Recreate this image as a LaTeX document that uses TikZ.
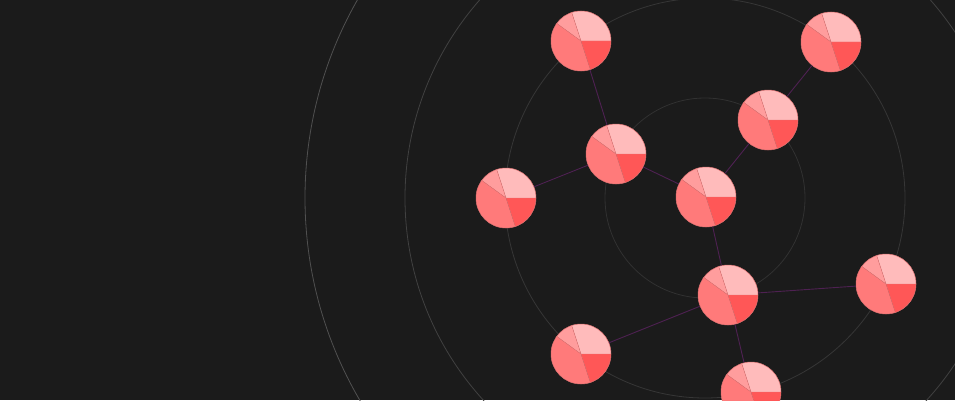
\documentclass[tikz,border=0pt]{standalone}
\usepackage{tikz}
\usetikzlibrary{positioning, calc}

\definecolor{bgdark}{HTML}{1B1B1B}
\definecolor{ringA}{HTML}{505050}
\definecolor{ringB}{HTML}{414141}
\definecolor{ringC}{HTML}{363636}
\definecolor{ringD}{HTML}{313131}
\definecolor{linkcol}{HTML}{4E2152}
\definecolor{pieA}{HTML}{FFBBBB}
\definecolor{pieB}{HTML}{FF9D9D}
\definecolor{pieC}{HTML}{FF7A7A}
\definecolor{pieD}{HTML}{FF5757}
\definecolor{piesep}{HTML}{E07474}

\begin{document}
\begin{tikzpicture}[
    x=1pt, y=1pt,
    ring/.style={line width=0.8pt},
    link/.style={draw=linkcol, line width=0.9pt},
    pie/.style={circle, minimum size=60pt, inner sep=0pt, draw=piesep, line width=0.5pt,
      path picture={
        \coordinate (pc) at (path picture bounding box.center);
        \fill[pieA] (pc) -- ++(0:31pt) arc (0:108:31pt) -- cycle;
        \fill[pieB] (pc) -- ++(108:31pt) arc (108:144:31pt) -- cycle;
        \fill[pieC] (pc) -- ++(144:31pt) arc (144:288:31pt) -- cycle;
        \fill[pieD] (pc) -- ++(288:31pt) arc (288:360:31pt) -- cycle;
        \draw[piesep, line width=0.4pt] (pc) -- ++(0:31pt) (pc) -- ++(108:31pt)
          (pc) -- ++(144:31pt) (pc) -- ++(288:31pt);
      }}
]
    % Background
    \fill[bgdark] (0,0) rectangle (955,400);
    \useasboundingbox (0,0) rectangle (955,400);

    % Rings
    \begin{scope}
      \clip (0,0) rectangle (955,400);
      \coordinate (hub) at (705,202);
      \draw[ring, ringA] (hub) circle (400);
      \draw[ring, ringB] (hub) circle (300);
      \draw[ring, ringC] (hub) circle (200);
      \draw[ring, ringD] (hub) circle (100);
    \end{scope}

    % Pie nodes
    \node[pie] (p1) at (581,359) {};
    \node[pie] (p2) at (831,358) {};
    \node[pie] (p3) at (768,280) {};
    \node[pie] (p4) at (616,246) {};
    \node[pie] (p5) at (506,202) {};
    \node[pie] (p6) at (706,203) {};
    \node[pie] (p7) at (728,105) {};
    \node[pie] (p8) at (886,116) {};
    \node[pie] (p9) at (581,46) {};
    \node[pie] (p10) at (751,8) {};

    % Links
    \draw[link] (p1) -- (p4);
    \draw[link] (p2) -- (p3);
    \draw[link] (p3) -- (p6);
    \draw[link] (p4) -- (p5);
    \draw[link] (p4) -- (p6);
    \draw[link] (p6) -- (p7);
    \draw[link] (p7) -- (p8);
    \draw[link] (p7) -- (p9);
    \draw[link] (p7) -- (p10);
\end{tikzpicture}
\end{document}
